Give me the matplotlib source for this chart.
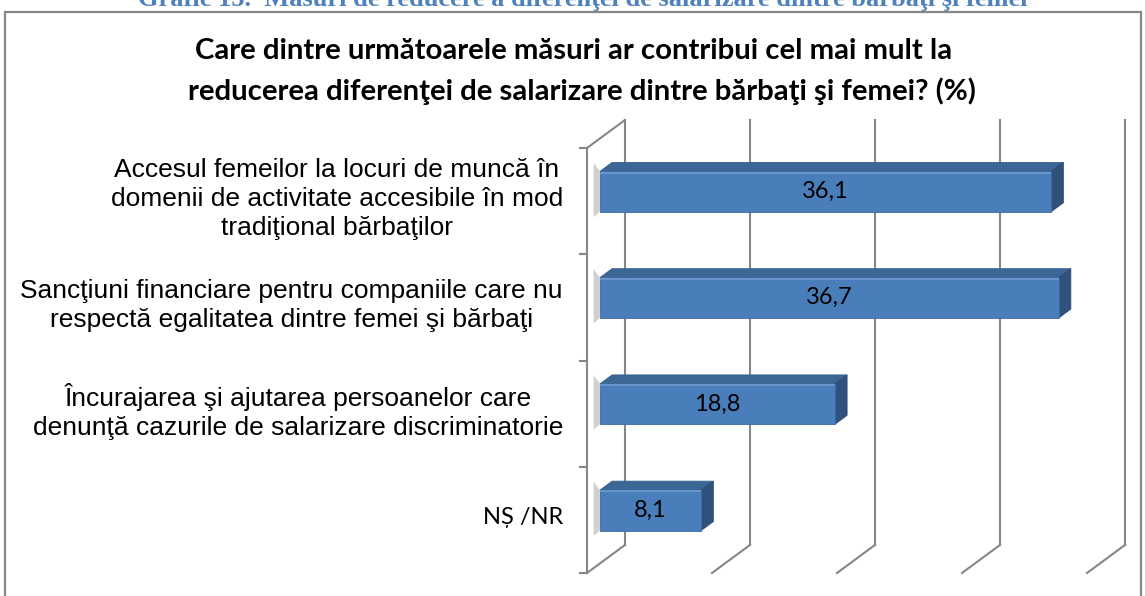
import numpy as np
import matplotlib
matplotlib.use('Agg')
import matplotlib.pyplot as plt
from matplotlib.patches import Polygon, Rectangle

# data
categories = [
    'Accesul femeilor la locuri de muncă în\ndomenii de activitate accesibile în mod\ntradiţional bărbaţilor',
    'Sancţiuni financiare pentru companiile care nu\nrespectă egalitatea dintre femei şi bărbaţi',
    'Încurajarea şi ajutarea persoanelor care\ndenunţă cazurile de salarizare discriminatorie',
    'NȘ /NR',
]
values = [36.1, 36.7, 18.8, 8.1]
value_labels = ['36,1', '36,7', '18,8', '8,1']
grid_ticks = [0, 10, 20, 30, 40]

caption = 'Grafic 15.  Măsuri de reducere a diferenţei de salarizare dintre bărbaţi şi femei'
title_lines = ['Care dintre următoarele măsuri ar contribui cel mai mult la',
               'reducerea diferenţei de salarizare dintre bărbaţi şi femei? (%)']

W, H = 1145, 596
fig = plt.figure(figsize=(W / 100, H / 100), dpi=100)

# pixel helpers for the frame (figure fraction)
def fx(px):
    return px / W

def fy(py):
    return 1 - py / H

# outer frame and cut caption
fig.patches.append(Rectangle((fx(5), fy(598)), fx(1141) - fx(5), fy(12) - fy(598),
                             transform=fig.transFigure, fill=False,
                             edgecolor='#868686', linewidth=1.6))
fig.text(fx(583), fy(6), caption, ha='center', va='baseline', fontsize=19,
         fontweight='bold', family='Liberation Serif', color='#4F81BD')

fig.text(fx(574), fy(51), title_lines[0], ha='center', va='center', fontsize=21.2,
         fontweight='bold', family=['Lato', 'DejaVu Sans'], color='black')
fig.text(fx(582), fy(91), title_lines[1], ha='center', va='center', fontsize=21.2,
         fontweight='bold', family=['Lato', 'DejaVu Sans'], color='black')

# plot area: 1 value unit = 12.5 px, 1 category = 106.25 px
x0_px, y0_px = 587, 573
sx, sy = 12.5, 106.25
xlim = (-5, 44.5)
ylim = (-0.2, 4.5)
left = x0_px + xlim[0] * sx
right = x0_px + xlim[1] * sx
bottom = y0_px - ylim[0] * sy
top = y0_px - ylim[1] * sy
ax = fig.add_axes([fx(left), fy(bottom), fx(right) - fx(left), fy(top) - fy(bottom)])
ax.set_xlim(*xlim)
ax.set_ylim(*ylim)
ax.axis('off')

n = len(categories)
depth_x, depth_y = 3.04, 0.264
grid_c = '#868686'

# walls: gridlines on back wall plus floor diagonals
for t in grid_ticks:
    ax.plot([t + depth_x, t + depth_x], [depth_y, n + depth_y], color=grid_c, lw=1.5,
            clip_on=False, zorder=1)
    ax.plot([t, t + depth_x], [0, depth_y], color=grid_c, lw=1.5, clip_on=False, zorder=1)

# front category axis
ax.plot([0, 0], [0, n], color=grid_c, lw=1.5, zorder=1)
ax.plot([0, depth_x], [n, n + depth_y], color=grid_c, lw=1.5, zorder=1)
for k in range(n + 1):
    ax.plot([-0.6, 0], [k, k], color=grid_c, lw=1.5, zorder=1)

# 3d bars
f0, f1 = 0.34, 0.66
bar_h = 0.38
front_c, top_c, side_c = '#4A7EBB', '#3C6695', '#30517C'
for i, (v, lab, cat) in enumerate(zip(values, value_labels, categories)):
    c = n - 0.5 - i
    ox0, oy0 = f0 * depth_x, f0 * depth_y
    ox1, oy1 = f1 * depth_x, f1 * depth_y
    yb, yt = c - bar_h / 2, c + bar_h / 2
    # soft shadow on the side wall
    ax.add_patch(Polygon([[ox0 - 0.5, yb + oy0 - 0.05], [ox0, yb + oy0],
                          [ox0, yt + oy0], [ox0 - 0.5, yt + oy0 + 0.08]],
                         closed=True, facecolor='#d0d0d0', edgecolor='none', zorder=2))
    ax.add_patch(Polygon([[ox0, yt + oy0], [ox0 + v, yt + oy0],
                          [ox1 + v, yt + oy1], [ox1, yt + oy1]],
                         closed=True, facecolor=top_c, edgecolor='#35608f', lw=0.6, zorder=3))
    ax.add_patch(Polygon([[ox0 + v, yb + oy0], [ox1 + v, yb + oy1],
                          [ox1 + v, yt + oy1], [ox0 + v, yt + oy0]],
                         closed=True, facecolor=side_c, edgecolor='#2b4a72', lw=0.6, zorder=3))
    ax.add_patch(Rectangle((ox0, yb + oy0), v, bar_h, facecolor=front_c,
                           edgecolor='#3a6aa3', lw=0.6, zorder=4))
    # highlight along the top front edge
    ax.plot([ox0, ox0 + v], [yt + oy0 - 0.012, yt + oy0 - 0.012], color='#6d9bd3',
            lw=1.2, zorder=5, solid_capstyle='butt')
    ax.text(ox0 + v / 2, c + oy0, lab, ha='center', va='center', fontsize=17,
            family=['Lato', 'DejaVu Sans'], color='black', zorder=6)
    if cat == 'NȘ /NR':
        fam = ['Lato', 'DejaVu Sans']
        fs = 17
    else:
        fam = ['Liberation Sans', 'DejaVu Sans']
        fs = 19
    ax.text(-1.92, c + 0.02, cat, ha='right', va='center', multialignment='center',
            fontsize=fs, family=fam, linespacing=1.27, color='black', clip_on=False)

fig.savefig('out.png', dpi=100)
